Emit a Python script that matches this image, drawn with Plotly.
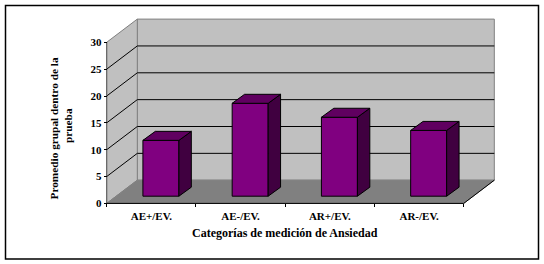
import plotly.graph_objects as go

categories = ["AE+/EV.", "AE-/EV.", "AR+/EV.", "AR-/EV."]
values = [10.4, 17.3, 14.7, 12.25]
y_ticks = [0, 5, 10, 15, 20, 25, 30]
y_title_lines = ["Promedio grupal dentro de la", "prueba"]
x_title = "Categorías de medición de Ansiedad"

W, H = 544, 264
X0, Y0 = 106.7, 203.4      # pixel of the axes origin
SX, SY = 89.25, 5.37       # pixels per category / per y unit
DX, DY = 30.6 / SX, 23.2 / SY   # chart depth
BDX, BDY = 12.4 / SX, 9.0 / SY  # bar depth
BAR_W = 36 / SX
BAR_X = 9.6 / SX           # bar centre shift towards the back
BAR_BASE = 7.2 / SY
XL, XR, YB, YT = -0.5, 3.5, 0, 30
FONT = "Liberation Serif"
INK = "#000000"

shapes = []


def poly(pts, fill, line, width=1):
    d = "M" + "L".join(f"{x},{y}" for x, y in pts) + "Z"
    return dict(type="path", path=d, xref="x", yref="y", fillcolor=fill,
                line=dict(color=line, width=width), layer="below")


def seg(p, q, color, width=1):
    return dict(type="line", x0=p[0], y0=p[1], x1=q[0], y1=q[1], xref="x", yref="y",
                line=dict(color=color, width=width), layer="below")


# frame
shapes.append(dict(type="rect", xref="paper", yref="paper",
                   x0=5.5 / W, x1=538.5 / W, y0=1 - 259 / H, y1=1 - 5.5 / H,
                   line=dict(color=INK, width=1.5), fillcolor="rgba(0,0,0,0)", layer="below"))
# walls and floor
shapes.append(poly([(XL + DX, YB + DY), (XR + DX, YB + DY), (XR + DX, YT + DY), (XL + DX, YT + DY)], "#c0c0c0", "#808080"))
shapes.append(poly([(XL, YB), (XL + DX, YB + DY), (XL + DX, YT + DY), (XL, YT)], "#c0c0c0", "#808080"))
shapes.append(poly([(XL, YB), (XR, YB), (XR + DX, YB + DY), (XL + DX, YB + DY)], "#808080", "#808080"))
# grid lines
for t in y_ticks[1:-1]:
    shapes.append(seg((XL, t), (XL + DX, t + DY), INK))
    shapes.append(seg((XL + DX, t + DY), (XR + DX, t + DY), INK))
# axis lines
shapes.append(seg((XL, YB), (XL, YT), "#606060"))
shapes.append(seg((XL, YB), (XR, YB), INK))
shapes.append(seg((XR, YB), (XR + DX, YB + DY), INK))

fig = go.Figure()
positions = list(range(len(categories)))

fig.add_trace(go.Bar(
    x=[p + BAR_X for p in positions], y=values, base=[BAR_BASE] * len(values), width=BAR_W,
    marker=dict(color="#800080", line=dict(color=INK, width=1)), hoverinfo="skip",
))

for p, v in zip(positions, values):
    l = p + BAR_X - BAR_W / 2
    r = p + BAR_X + BAR_W / 2
    b = BAR_BASE
    t = BAR_BASE + v
    side = [(r, b), (r + BDX, b + BDY), (r + BDX, t + BDY), (r, t), (r, b)]
    top = [(l, t), (l + BDX, t + BDY), (r + BDX, t + BDY), (r, t), (l, t)]
    for pts, col in ((side, "#400040"), (top, "#600060")):
        fig.add_trace(go.Scatter(
            x=[q[0] for q in pts], y=[q[1] for q in pts], mode="lines", fill="toself",
            fillcolor=col, line=dict(color=INK, width=1), hoverinfo="skip",
        ))

fig.update_layout(
    width=W, height=H, margin=dict(l=0, r=0, t=0, b=0), showlegend=False,
    paper_bgcolor="#ffffff", plot_bgcolor="rgba(0,0,0,0)",
    font=dict(family=FONT, size=11, color=INK),
    shapes=shapes,
    xaxis=dict(
        domain=[0, 1], range=[XL - X0 / SX, XL + (W - X0) / SX],
        anchor="free", position=1 - Y0 / H, showgrid=False, zeroline=False, showline=False,
        tickmode="array", tickvals=positions, ticktext=categories, ticks="", ticklabelstandoff=5,
        tickfont=dict(family=FONT, size=11, color=INK, weight="bold"),
        minor=dict(tickmode="array", tickvals=[p - 0.5 for p in positions] + [XR],
                   ticks="outside", ticklen=3, tickcolor=INK, tickwidth=1, showgrid=False),
    ),
    yaxis=dict(
        domain=[0, 1], range=[-(H - Y0) / SY, Y0 / SY],
        anchor="free", position=X0 / W, showgrid=False, zeroline=False, showline=False,
        tickmode="array", tickvals=y_ticks, ticks="outside", ticklen=3, tickcolor=INK, tickwidth=1,
        tickfont=dict(family=FONT, size=11, color=INK, weight="bold"),
    ),
    annotations=[
        dict(text=f"<b>{x_title}</b>", xref="paper", yref="paper", x=285 / W, y=1 - 233 / H,
             xanchor="center", yanchor="middle", showarrow=False,
             font=dict(family=FONT, size=12, color=INK)),
        dict(text=f"<b>{y_title_lines[0]}</b>", xref="paper", yref="paper",
             x=53 / W, y=1 - 128.5 / H, xanchor="center", yanchor="middle", textangle=-90,
             showarrow=False, font=dict(family=FONT, size=11.3, color=INK)),
        dict(text=f"<b>{y_title_lines[1]}</b>", xref="paper", yref="paper",
             x=68.5 / W, y=1 - 125.5 / H, xanchor="center", yanchor="middle", textangle=-90,
             showarrow=False, font=dict(family=FONT, size=11.3, color=INK)),
    ],
)

fig.write_html("out.html", post_script="document.body.style.margin='0';",
               config=dict(displayModeBar=False))
